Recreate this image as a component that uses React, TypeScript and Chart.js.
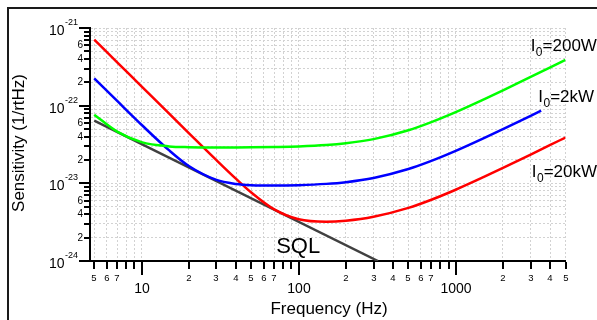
import React, { useEffect, useRef } from 'react';
import { Chart, registerables } from 'chart.js';

Chart.register(...registerables);

const FONT = '"Liberation Sans", Arial, Helvetica, sans-serif';

// ---- data ----
const freqGreen = [5, 7, 10, 15, 20, 30, 40, 50, 70, 100, 150, 200, 300, 500, 700, 1000, 1500, 2000, 3000, 4000, 5000];
const valGreen = [7.66e-23, 4.63e-23, 3.39e-23, 2.99e-23, 2.92e-23, 2.9e-23, 2.9e-23, 2.91e-23, 2.94e-23, 2.99e-23, 3.11e-23, 3.28e-23, 3.71e-23, 4.83e-23, 6.15e-23, 8.27e-23, 1.199e-22, 1.578e-22, 2.345e-22, 3.116e-22, 3.89e-22];

const freqBlue = [5, 7, 10, 15, 20, 30, 40, 50, 70, 100, 150, 200, 300, 500, 700, 1000, 1500, 2000, 3000, 3500];
const valBlue = [2.246e-22, 1.149e-22, 5.68e-23, 2.654e-23, 1.672e-23, 1.106e-23, 9.82e-24, 9.47e-24, 9.35e-24, 9.47e-24, 9.84e-24, 1.036e-23, 1.172e-23, 1.528e-23, 1.944e-23, 2.616e-23, 3.79e-23, 4.99e-23, 7.41e-23, 8.63e-23];

const freqRed = [5, 7, 10, 15, 20, 30, 40, 50, 70, 100, 150, 200, 300, 500, 700, 1000, 1500, 2000, 3000, 4000, 5000];
const valRed = [7.1e-22, 3.62e-22, 1.774e-22, 7.88e-23, 4.44e-23, 1.986e-23, 1.14e-23, 7.61e-24, 4.61e-24, 3.44e-24, 3.195e-24, 3.3e-24, 3.71e-24, 4.83e-24, 6.15e-24, 8.27e-24, 1.199e-23, 1.578e-23, 2.345e-23, 3.116e-23, 3.89e-23];

const freqSQL = [5, 320];
const valSQL = [6.4e-23, 1e-24];

// ---- axes / ticks ----
const xMin = 4.7;
const xMax = 5000;
const yMin = 1e-24;
const yMax = 1e-21;

const xTickValues = [5, 6, 7, 8, 9, 10, 20, 30, 40, 50, 60, 70, 80, 90, 100, 200, 300, 400, 500, 600, 700, 800, 900, 1000, 2000, 3000, 4000, 5000];
const xTickLabels = ['5', '6', '7', '', '', '10', '2', '3', '4', '5', '6', '7', '', '', '100', '2', '3', '4', '5', '6', '7', '', '', '1000', '2', '3', '4', '5'];
const xMajor = [10, 100, 1000];

const yTickValues = [1e-24, 2e-24, 3e-24, 4e-24, 5e-24, 6e-24, 7e-24, 8e-24, 9e-24, 1e-23, 2e-23, 3e-23, 4e-23, 5e-23, 6e-23, 7e-23, 8e-23, 9e-23, 1e-22, 2e-22, 3e-22, 4e-22, 5e-22, 6e-22, 7e-22, 8e-22, 9e-22, 1e-21];
const yTickLabels = ['10^-24', '2', '', '4', '', '6', '', '', '', '10^-23', '2', '', '4', '', '6', '', '', '', '10^-22', '2', '', '4', '', '6', '', '', '', '10^-21'];

const xTitle = 'Frequency (Hz)';
const yTitle = 'Sensitivity (1/rtHz)';

// curve labels: [main, subscript, rest, anchor frequency, anchor value (baseline)]
const curveLabels: [string, string, string, number, number][] = [
  ['I', '0', '=200W', 3000, 5.06e-22],
  ['I', '0', '=2kW', 3355, 1.11e-22],
  ['I', '0', '=20kW', 3050, 1.21e-23],
  ['SQL', '', '', 72, 1.27e-24],
];

const toPts = (xs: number[], ys: number[]) => xs.map((x, i) => ({ x, y: ys[i] }));

const isMajorY = (v: number) => {
  const l = Math.log10(v);
  return Math.abs(l - Math.round(l)) < 1e-6;
};

const overlayPlugin = {
  id: 'overlay',
  afterDraw(chart: any) {
    const ctx: CanvasRenderingContext2D = chart.ctx;
    const xs = chart.scales.x;
    const ys = chart.scales.y;
    const area = chart.chartArea;
    ctx.save();
    ctx.strokeStyle = '#000';
    ctx.fillStyle = '#000';
    ctx.lineWidth = 2;
    ctx.lineCap = 'butt';

    // y ticks
    yTickValues.forEach((v, i) => {
      const py = Math.round(ys.getPixelForValue(v));
      const major = isMajorY(v);
      const len = major ? 10 : 5;
      ctx.beginPath();
      ctx.moveTo(area.left - 1, py);
      ctx.lineTo(area.left - 1 - len, py);
      ctx.stroke();
      const lab = yTickLabels[i];
      if (!lab) return;
      ctx.textAlign = 'right';
      ctx.textBaseline = 'middle';
      if (lab.includes('^')) {
        const [b, e] = lab.split('^');
        const ex = area.left - 12;
        ctx.font = `9px ${FONT}`;
        ctx.fillText(e, ex, py - 5);
        const w = ctx.measureText(e).width;
        ctx.font = `14px ${FONT}`;
        ctx.fillText(b, ex - w - 0.5, py + 3);
      } else {
        ctx.font = `10px ${FONT}`;
        ctx.fillText(lab, area.left - 7, py);
      }
    });

    // x ticks
    xTickValues.forEach((v, i) => {
      const px = Math.round(xs.getPixelForValue(v));
      const major = xMajor.includes(v);
      const len = major ? 13 : 7;
      ctx.beginPath();
      ctx.moveTo(px, area.bottom + 1);
      ctx.lineTo(px, area.bottom + 1 + len);
      ctx.stroke();
      const lab = xTickLabels[i];
      if (!lab) return;
      ctx.textAlign = 'center';
      ctx.textBaseline = 'middle';
      if (major) {
        ctx.font = `14px ${FONT}`;
        ctx.fillText(lab, px, area.bottom + 28);
      } else {
        ctx.font = `9.5px ${FONT}`;
        ctx.fillText(lab, px, area.bottom + 17);
      }
    });

    // axis titles
    ctx.font = `17px ${FONT}`;
    ctx.textAlign = 'center';
    ctx.textBaseline = 'middle';
    ctx.fillText(xTitle, 329, 309);
    ctx.save();
    ctx.translate(19, 143);
    ctx.rotate(-Math.PI / 2);
    ctx.fillText(yTitle, 0, 0);
    ctx.restore();

    // curve labels
    ctx.textAlign = 'left';
    ctx.textBaseline = 'alphabetic';
    curveLabels.forEach(([main, sub, rest, f, v]) => {
      let x = xs.getPixelForValue(f);
      const y = ys.getPixelForValue(v);
      const big = main === 'SQL' ? 22 : 17;
      ctx.font = `${big}px ${FONT}`;
      ctx.fillText(main, x, y);
      x += ctx.measureText(main).width;
      if (sub) {
        ctx.font = `12px ${FONT}`;
        ctx.fillText(sub, x + 0.5, y + 5);
        x += ctx.measureText(sub).width + 0.5;
      }
      if (rest) {
        ctx.font = `${big}px ${FONT}`;
        ctx.fillText(rest, x, y);
      }
    });
    ctx.restore();
  },
};

export default function App() {
  const ref = useRef<HTMLCanvasElement>(null);
  useEffect(() => {
    const gridColor = '#d2d2d2';
    const chart = new Chart(ref.current as HTMLCanvasElement, {
      type: 'line',
      data: {
        datasets: [
          { data: toPts(freqGreen, valGreen), borderColor: '#00ff00', borderWidth: 2.5, pointRadius: 0, cubicInterpolationMode: 'monotone', fill: false },
          { data: toPts(freqBlue, valBlue), borderColor: '#0000ff', borderWidth: 2.5, pointRadius: 0, cubicInterpolationMode: 'monotone', fill: false },
          { data: toPts(freqRed, valRed), borderColor: '#ff0000', borderWidth: 2.5, pointRadius: 0, cubicInterpolationMode: 'monotone', fill: false },
          { data: toPts(freqSQL, valSQL), borderColor: '#404040', borderWidth: 2.5, pointRadius: 0, tension: 0, fill: false },
        ],
      } as any,
      options: {
        responsive: false,
        animation: false,
        devicePixelRatio: 1,
        layout: { padding: { top: 28, right: 31.5, left: 0, bottom: 0 } },
        plugins: { legend: { display: false }, tooltip: { enabled: false } },
        scales: {
          x: {
            type: 'logarithmic',
            min: xMin,
            max: xMax,
            afterBuildTicks: (s: any) => { s.ticks = xTickValues.map((v) => ({ value: v })); },
            afterFit: (s: any) => { s.height = 59; },
            ticks: { display: false },
            grid: { color: gridColor, lineWidth: 1, drawTicks: false },
            border: { display: true, color: '#000', width: 2, dash: [2, 2] },
          },
          y: {
            type: 'logarithmic',
            min: yMin,
            max: yMax,
            afterBuildTicks: (s: any) => { s.ticks = yTickValues.map((v) => ({ value: v })); },
            afterFit: (s: any) => { s.width = 90; },
            ticks: { display: false },
            grid: { color: gridColor, lineWidth: 1, drawTicks: false },
            border: { display: true, color: '#000', width: 2, dash: [2, 2] },
          },
        },
      } as any,
      plugins: [overlayPlugin],
    });
    return () => chart.destroy();
  }, []);

  return (
    <div style={{ position: 'fixed', left: 0, top: 0, width: 597, height: 320, overflow: 'hidden', background: '#fff' }}>
      <div style={{ position: 'absolute', left: 7, top: 7, width: 800, height: 600, borderLeft: '2px solid #1a1a1a', borderTop: '2px solid #1a1a1a' }} />
      <canvas ref={ref} width={597} height={320} style={{ position: 'absolute', left: 0, top: 0, width: 597, height: 320 }} />
    </div>
  );
}
